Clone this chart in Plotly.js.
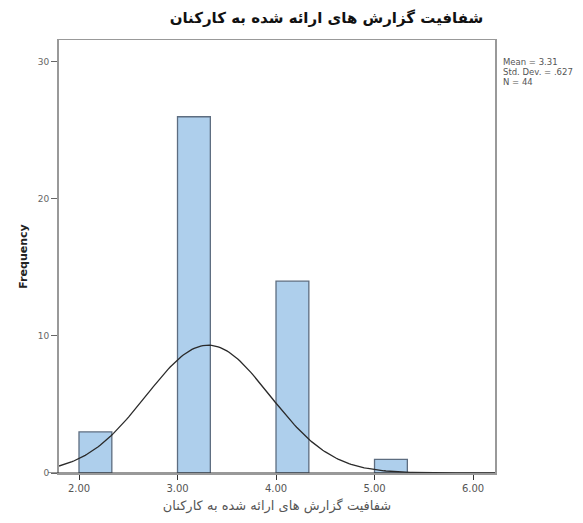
<!DOCTYPE html>
<html>
<head>
<meta charset="utf-8">
<script src="https://cdn.plot.ly/plotly-3.0.1.min.js"></script>
<style>html,body{margin:0;padding:0;background:#fff;}#chart{width:583px;height:523px;}</style>
</head>
<body>
<div id="chart"></div>
<script>
// Data
const binStarts = [2.0, 3.0, 4.0, 5.0];
const counts = [3, 26, 14, 1];
const binWidth = 1 / 3;
// Stats shown in the legend box
const statMean = 3.31;
const statSD = 0.627;
const statN = 44;
const xTickVals = [2, 3, 4, 5, 6];
const xTickText = ['2.00', '3.00', '4.00', '5.00', '6.00'];
const yTickVals = [0, 10, 20, 30];
const statLines = ['Mean = 3.31', 'Std. Dev. = .627', 'N = 44'];

const titleText = 'شفافیت گزارش های ارائه شده به کارکنان';
const xTitleText = 'شفافیت گزارش های ارائه شده به کارکنان';

const xRange = [1.797, 6.223];
const yRange = [0, 31.6];
// Fitted normal curve from the reported mean / sd / N
const curveX = [], curveY = [];
for (let i = 0; i <= 200; i++) {
  const x = xRange[0] + (xRange[1] - xRange[0]) * i / 200;
  const z = (x - statMean) / statSD;
  curveX.push(x);
  curveY.push(statN * binWidth / (statSD * Math.sqrt(2 * Math.PI)) * Math.exp(-0.5 * z * z));
}

const traces = [
  {
    type: 'bar', x: binStarts, y: counts, width: binWidth, offset: 0,
    marker: {color: '#aecfec', line: {color: '#5d6d80', width: 1.3}},
    hoverinfo: 'x+y'
  },
  {
    type: 'scatter', mode: 'lines', x: curveX, y: curveY,
    line: {color: '#2a2a2a', width: 1.3}, hoverinfo: 'skip'
  }
];

const statY = [62, 72, 82];
const annotations = statLines.map((t, i) => ({
  xref: 'paper', yref: 'paper', x: 1.014, y: (473 - statY[i]) / 433,
  xanchor: 'left', yanchor: 'middle', align: 'left', showarrow: false,
  text: t, font: {family: 'DejaVu Sans, sans-serif', size: 8.5, color: '#555'}
}));

const layout = {
  width: 583, height: 523,
  margin: {l: 59, r: 88, t: 40, b: 50},
  paper_bgcolor: '#ffffff', plot_bgcolor: '#ffffff',
  showlegend: false,
  font: {family: 'DejaVu Sans, sans-serif', color: '#444'},
  title: {
    text: '<b>' + titleText + '</b>',
    x: 0.56, xanchor: 'center', y: 0.966, yanchor: 'middle',
    font: {family: 'DejaVu Sans', size: 15, color: '#111'}
  },
  xaxis: {
    range: xRange, tickvals: xTickVals, ticktext: xTickText,
    ticks: 'outside', ticklen: 5, tickcolor: '#333', tickwidth: 1,
    showgrid: false, zeroline: false,
    showline: true, linecolor: '#999', linewidth: 1.5, mirror: true,
    tickfont: {size: 10, color: '#555'},
    title: {text: xTitleText, font: {size: 13, color: '#555'}, standoff: 8}
  },
  yaxis: {
    range: yRange, tickvals: yTickVals,
    ticks: 'outside', ticklen: 6, tickcolor: '#666', tickwidth: 1,
    showgrid: false, zeroline: false,
    showline: true, linecolor: '#999', linewidth: 2, mirror: true,
    tickfont: {size: 9, color: '#666'},
    title: {text: '<b>Frequency</b>', font: {size: 11, color: '#222'}, standoff: 8}
  },
  shapes: [
    {type: 'line', xref: 'paper', yref: 'y', x0: -0.025, x1: 1, y0: 0, y1: 0, line: {color: '#333', width: 1.2}}
  ],
  annotations: annotations
};

Plotly.newPlot('chart', traces, layout, {displayModeBar: false, staticPlot: true});
</script>
</body>
</html>
